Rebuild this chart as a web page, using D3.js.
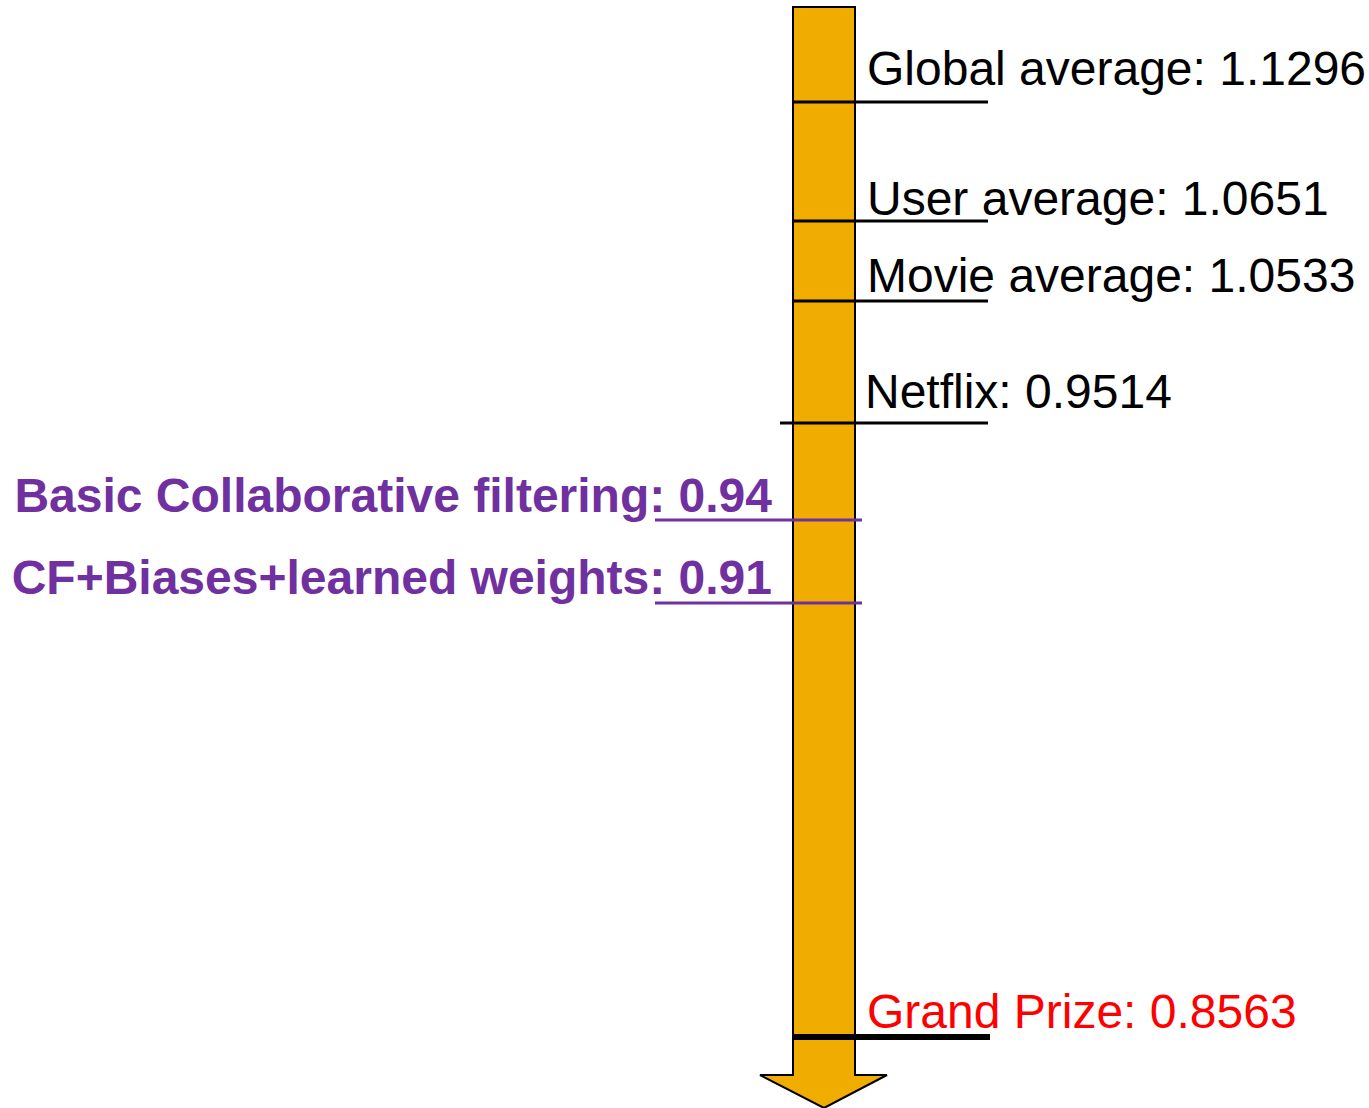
<!DOCTYPE html>
<html>
<head>
<meta charset="utf-8">
<script src="https://cdn.jsdelivr.net/npm/d3@7"></script>
<style>
  html, body { margin: 0; padding: 0; background: #fff; }
  svg { display: block; font-family: "Liberation Sans", Arial, sans-serif; }
</style>
</head>
<body>
<div id="chart"></div>
<script>
// ---------------- data ----------------
const labels = ["Global average", "User average", "Movie average", "Netflix",
                "Basic Collaborative filtering", "CF+Biases+learned weights", "Grand Prize"];
const rmse   = [1.1296, 1.0651, 1.0533, 0.9514, 0.94, 0.91, 0.8563];
const kinds  = ["baseline", "baseline", "baseline", "netflix", "ours", "ours", "prize"];

// ---------------- layout ----------------
const width = 1369, height = 1108;
const shaft = { x0: 793, x1: 855, top: 7, headTop: 1075, headX0: 760, headX1: 887, tip: 1108 };
// the slide spaces the results by hand, so the value axis is piecewise linear
const yScale = d3.scaleLinear()
    .domain(rmse)
    .range([102, 221, 301, 423, 520, 603, 1037]);
const labelLift = [17, 6, 9, 15, 8, 9, 9];

const style = {
    baseline: { color: "#000", text: "#000", x0: 793, x1: 988, w: 3, side: "right", weight: "normal", tx: 867 },
    netflix:  { color: "#000", text: "#000", x0: 780, x1: 988, w: 3, side: "right", weight: "normal", tx: 865 },
    ours:     { color: "#7030A0", text: "#7030A0", x0: 655, x1: 862, w: 3, side: "left", weight: "bold", tx: 772 },
    prize:    { color: "#000", text: "#FF0000", x0: 793, x1: 990, w: 6, side: "right", weight: "normal", tx: 867 }
};

const svg = d3.select("#chart").append("svg")
    .attr("width", width)
    .attr("height", height);

// arrow
const cx = (shaft.x0 + shaft.x1) / 2;
const arrow = d3.path();
arrow.moveTo(shaft.x0, shaft.top);
arrow.lineTo(shaft.x1, shaft.top);
arrow.lineTo(shaft.x1, shaft.headTop);
arrow.lineTo(shaft.headX1, shaft.headTop);
arrow.lineTo(cx, shaft.tip);
arrow.lineTo(shaft.headX0, shaft.headTop);
arrow.lineTo(shaft.x0, shaft.headTop);
arrow.closePath();

svg.append("path")
    .attr("d", arrow.toString())
    .attr("fill", "#F0AD00")
    .attr("stroke", "#000")
    .attr("stroke-width", 2)
    .attr("stroke-linejoin", "miter");

const rows = labels.map((l, i) => ({ label: l, value: rmse[i], kind: kinds[i], lift: labelLift[i] }));

const g = svg.selectAll("g.result")
    .data(rows)
    .enter()
    .append("g")
    .attr("class", "result");

g.append("line")
    .attr("x1", d => style[d.kind].x0)
    .attr("x2", d => style[d.kind].x1)
    .attr("y1", d => yScale(d.value))
    .attr("y2", d => yScale(d.value))
    .attr("stroke", d => style[d.kind].color)
    .attr("stroke-width", d => style[d.kind].w);

g.append("text")
    .attr("x", d => style[d.kind].tx)
    .attr("y", d => yScale(d.value) - d.lift)
    .attr("text-anchor", d => style[d.kind].side === "left" ? "end" : "start")
    .attr("font-size", 48)
    .attr("font-weight", d => style[d.kind].weight)
    .attr("fill", d => style[d.kind].text)
    .text(d => d.label + ": " + d.value);
</script>
</body>
</html>
